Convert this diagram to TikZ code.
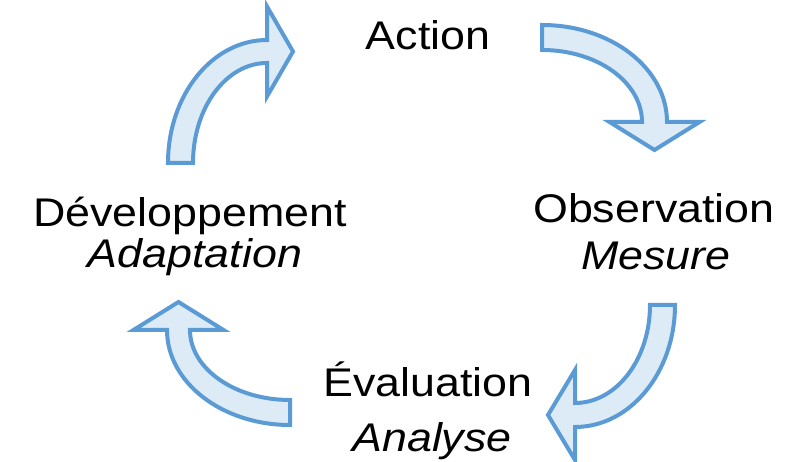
\documentclass[tikz,border=0pt]{standalone}
\usepackage{fontspec}
\setmainfont[FakeStretch=1.12]{Liberation Sans}
\usepackage{tikz}
\usetikzlibrary{positioning}
\definecolor{arrowline}{RGB}{91,155,213}
\definecolor{arrowfill}{RGB}{221,235,247}

\begin{document}
\begin{tikzpicture}[x=1pt, y=1pt,
    lbl/.style={inner sep=0pt, anchor=base, font=\fontsize{40}{44}\selectfont},
    bent/.style={draw=arrowline, fill=arrowfill, line width=4pt, line join=miter}]
    \useasboundingbox (0,0) rectangle (807,462);

    \node[lbl] (act) at (428,412) {Action};
    \node[lbl] (obs) at (654,239) {Observation};
    \node[lbl] (obsm) at (656,192) {\textit{Mesure}};
    \node[lbl] (eva) at (428,65) {Évaluation};
    \node[lbl] (evam) at (432,10) {\textit{Analyse}};
    \node[lbl] (dev) at (190,235) {Développement};
    \node[lbl] (devm) at (195,194) {\textit{Adaptation}};

    % curved block arrows
    \draw[bent] (168,299) arc[start angle=180, end angle=90, x radius=99, y radius=123]
        -- (267,455.5) -- (293,410.5) -- (267,365.5) -- (267,399)
        arc[start angle=90, end angle=180, x radius=74, y radius=100] -- cycle;
    \draw[bent] (542,437) arc[start angle=90, end angle=0, x radius=125, y radius=97]
        -- (699.5,340) -- (654.5,312) -- (609.5,340) -- (642,340)
        arc[start angle=0, end angle=90, x radius=100, y radius=72] -- cycle;
    \draw[bent] (675,157) arc[start angle=0, end angle=-90, x radius=100, y radius=122]
        -- (575,2) -- (548,47) -- (575,92) -- (575,59)
        arc[start angle=-90, end angle=0, x radius=75, y radius=98] -- cycle;
    \draw[bent] (290,37) arc[start angle=-90, end angle=-180, x radius=123, y radius=95]
        -- (133.5,132) -- (178.5,160) -- (223.5,132) -- (190,132)
        arc[start angle=180, end angle=270, x radius=100, y radius=70] -- cycle;
\end{tikzpicture}
\end{document}
